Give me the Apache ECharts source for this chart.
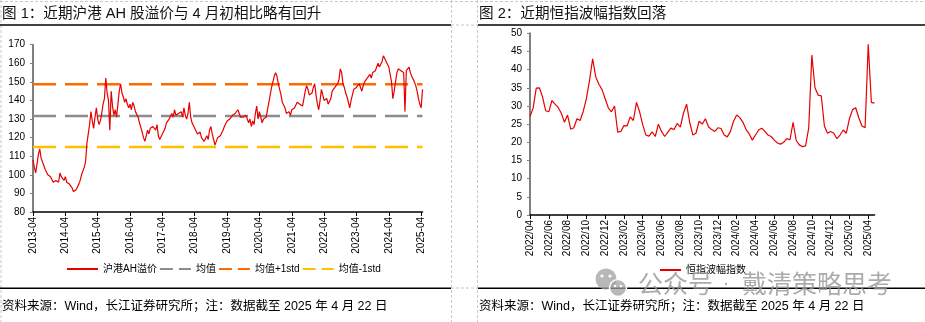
<!DOCTYPE html>
<html><head><meta charset="utf-8">
<script src="https://cdn.jsdelivr.net/npm/echarts@6/dist/echarts.min.js"></script>
<style>html,body{margin:0;padding:0;background:#fff;}#c{width:925px;height:322px;}</style>
</head><body><div id="c"></div>
<script>
// ---------- Figure 1: AH premium (semi-monthly samples starting 2013-04) ----------
const ahTickLabels = ['2013-04','2014-04','2015-04','2016-04','2017-04','2018-04','2019-04','2020-04','2021-04','2022-04','2023-04','2024-04','2025-04'];
const ahValues = [
  108,104,101,106,111,114,109,107,105,103,102,100,101,99,98,96,95,97,98,96,101,99,98,97,
  99,96,97,95,94,93,91,90,92,93,95,97,100,101,104,107,117,122,127,134,129,125,131,136,
  130,127,129,133,138,141,152,144,140,124,145,137,132,135,131,138,145,149,144,142,139,141,138,136,
  138,135,139,137,134,133,131,128,127,123,120,118,121,124,122,125,124,126,125,124,127,121,119,118,
  122,122,125,128,127,130,130,133,131,135,132,131,133,132,134,131,136,132,130,133,139,131,128,127,
  125,124,122,121,123,120,119,118,117,121,119,124,126,122,119,116,118,120,119,121,120,124,126,127,
  129,128,130,131,132,131,133,132,135,133,131,132,131,130,132,131,128,130,126,129,127,133,137,130,
  134,131,128,130,129,131,130,139,143,147,150,153,155,153,149,146,143,139,138,136,133,132,134,132,
  135,134,136,136,139,140,138,137,137,141,145,148,146,143,142,144,147,149,143,138,135,140,146,143,
  140,139,141,138,137,141,145,146,147,146,149,151,157,155,149,147,144,142,139,136,140,143,146,145,
  147,146,149,148,145,148,150,151,152,153,154,152,155,154,156,157,160,158,158,161,164,163,161,160,
  158,159,150,141,145,150,155,157,158,156,157,155,134,156,157,158,155,153,152,150,148,145,141,138,
  136,146
];
const ahMean = [131.6];
const ahUpper = [148.7];
const ahLower = [115.0];
const ahNames = ['沪港AH溢价','均值','均值+1std','均值-1std'];

// ---------- Figure 2: HSI volatility index (samples ~every 10 days from 2022-04) ----------
const vhsiTickLabels = ['2022/04','2022/06','2022/08','2022/10','2022/12','2023/02','2023/04','2023/06','2023/08','2023/10','2023/12','2024/02','2024/04','2024/06','2024/08','2024/10','2024/12','2025/02','2025/04'];
const vhsiValues = [
  27.1,29.4,34.9,35,32.5,28.7,28.4,31.5,30.5,29.6,28,25.5,27.5,23.6,24,26.5,26,28.5,
  32,37,43,38,36,34.5,32,29.5,28.4,30,22.8,23,24.6,24.5,27,26,31,28.4,
  24.8,22,21.7,22.9,21.6,25,23,21.6,22.8,23.9,23.5,25.2,24.2,28,30.5,25.5,22,22.5,
  25.8,25,26.5,24.3,23.5,23,24,23.8,22,21.5,23,25.8,27.5,26.8,25.5,23.5,22.3,20.6,
  22,23.4,23.9,23,22,21.6,20.6,19.8,19.5,20,21,20.7,25.5,20.5,19.3,18.8,19,24,
  44,35,33,32.8,24.5,22.5,23,22.5,21,22,23.4,22.5,26.5,29,29.5,26.7,24.5,24,
  47,31,30.8
];
const vhsiName = '恒指波幅指数';

// ---------- build data for the library ----------
const ahData = ahValues.map((v, i) => [i / 2, v]);           // x = months since 2013-04
const ahEnd = ahData[ahData.length - 1][0];
const vhsiData = vhsiValues.map((v, i) => [i / 3, v]);       // x = months since 2022-04
const vhsiEnd = vhsiData[vhsiData.length - 1][0];
const hline = (val) => [[0, val], [ahEnd, val]];

const NUM = '"Liberation Sans", Arial, "Noto Sans CJK SC", sans-serif';
const CJK = '"Liberation Sans", "Noto Sans CJK SC", sans-serif';
const lbl = { color: '#000', fontSize: 10, fontFamily: NUM };

const chart = echarts.init(document.getElementById('c'), null, { renderer: 'canvas' });

const dashGray = { stroke: '#c8c8c8', lineWidth: 1, lineDash: [3, 2] };
const black = { stroke: '#000', lineWidth: 1.4 };
const wmFill = 'rgba(150,150,150,0.8)';
const wmFont = '25px "Noto Sans CJK SC", sans-serif';
const graphics = [
  { type: 'line', shape: { x1: 0, y1: 1.5, x2: 925, y2: 1.5 }, style: dashGray, silent: true },
  { type: 'line', shape: { x1: 1, y1: 0, x2: 1, y2: 322 }, style: dashGray, silent: true },
  { type: 'line', shape: { x1: 451.5, y1: 0, x2: 451.5, y2: 322 }, style: dashGray, silent: true },
  { type: 'line', shape: { x1: 477.5, y1: 0, x2: 477.5, y2: 322 }, style: dashGray, silent: true },
  { type: 'line', shape: { x1: 451, y1: 25, x2: 478, y2: 25 }, style: dashGray, silent: true },
  { type: 'line', shape: { x1: 451, y1: 288, x2: 478, y2: 288 }, style: dashGray, silent: true },
  { type: 'line', shape: { x1: 0, y1: 25, x2: 451, y2: 25 }, style: black, silent: true },
  { type: 'line', shape: { x1: 478, y1: 25, x2: 925, y2: 25 }, style: black, silent: true },
  { type: 'line', shape: { x1: 0, y1: 288.3, x2: 451, y2: 288.3 }, style: black, silent: true },
  { type: 'line', shape: { x1: 478, y1: 288.3, x2: 925, y2: 288.3 }, style: black, silent: true },
  { type: 'text', x: 2, y: 14, style: { text: '图 1：近期沪港 AH 股溢价与 4 月初相比略有回升', fill: '#111', font: '14.6px ' + CJK, textVerticalAlign: 'middle' } },
  { type: 'text', x: 479, y: 14, style: { text: '图 2：近期恒指波幅指数回落', fill: '#111', font: '14.6px ' + CJK, textVerticalAlign: 'middle' } },
  { type: 'text', x: 2, y: 306.5, style: { text: '资料来源：Wind，长江证券研究所；注：数据截至 2025 年 4 月 22 日', fill: '#000', font: '12.5px ' + CJK, textVerticalAlign: 'middle' } },
  { type: 'text', x: 479, y: 306.5, style: { text: '资料来源：Wind，长江证券研究所；注：数据截至 2025 年 4 月 22 日', fill: '#000', font: '12.5px ' + CJK, textVerticalAlign: 'middle' } },
  // watermark
  { type: 'circle', shape: { cx: 606, cy: 279, r: 10.5 }, style: { fill: 'rgba(160,160,160,0.75)' }, z: 100 },
  { type: 'circle', shape: { cx: 618, cy: 288, r: 8.5 }, style: { fill: 'rgba(160,160,160,0.75)', stroke: '#fff', lineWidth: 1.5 }, z: 101 },
  { type: 'circle', shape: { cx: 602, cy: 276, r: 1.6 }, style: { fill: '#fff' }, z: 102 },
  { type: 'circle', shape: { cx: 610, cy: 276, r: 1.6 }, style: { fill: '#fff' }, z: 102 },
  { type: 'circle', shape: { cx: 615, cy: 286, r: 1.3 }, style: { fill: '#fff' }, z: 102 },
  { type: 'circle', shape: { cx: 621, cy: 286, r: 1.3 }, style: { fill: '#fff' }, z: 102 },
  { type: 'text', x: 638, y: 283, z: 100, style: { text: '公众号', fill: wmFill, font: wmFont, textVerticalAlign: 'middle' } },
  { type: 'text', x: 726, y: 283, z: 100, style: { text: '·', fill: wmFill, font: '20px "Liberation Sans", sans-serif', textAlign: 'center', textVerticalAlign: 'middle' } },
  { type: 'text', x: 742, y: 283, z: 100, style: { text: '戴清策略思考', fill: wmFill, font: wmFont, textVerticalAlign: 'middle' } }
];

const noSym = { opacity: 0 };

chart.setOption({
  animation: false,
  backgroundColor: '#fff',
  textStyle: { fontFamily: CJK },
  grid: [
    { left: 33, top: 44.7, width: 389.5, height: 167.3 },
    { left: 530, top: 33.3, width: 344.5, height: 181.7 }
  ],
  xAxis: [
    {
      gridIndex: 0, type: 'value', min: 0, max: ahEnd, interval: 12,
      splitLine: { show: false },
      axisLine: { lineStyle: { color: '#000', width: 1.5 } },
      axisTick: { length: 4, lineStyle: { color: '#000' } },
      axisLabel: Object.assign({}, lbl, { rotate: 90, margin: 5, showMaxLabel: false,
        formatter: (v) => (Math.abs(v % 12) < 1e-6 ? (ahTickLabels[Math.round(v / 12)] || '') : '') })
    },
    {
      gridIndex: 1, type: 'value', min: 0, max: vhsiEnd, interval: 2,
      splitLine: { show: false },
      axisLine: { lineStyle: { color: '#000', width: 1.5 } },
      axisTick: { length: 4, lineStyle: { color: '#000' } },
      axisLabel: Object.assign({}, lbl, { rotate: 90, margin: 5, showMaxLabel: false,
        formatter: (v) => (Math.abs(v % 2) < 1e-6 ? (vhsiTickLabels[Math.round(v / 2)] || '') : '') })
    }
  ],
  yAxis: [
    {
      gridIndex: 0, type: 'value', min: 80, max: 170, interval: 10,
      splitLine: { show: false },
      axisLine: { show: true, lineStyle: { color: '#7f7f7f', width: 2 } },
      axisTick: { show: true, length: 3, lineStyle: { color: '#7f7f7f' } },
      axisLabel: Object.assign({}, lbl, { margin: 8 })
    },
    {
      gridIndex: 1, type: 'value', min: 0, max: 50, interval: 5,
      splitLine: { show: false },
      axisLine: { show: true, lineStyle: { color: '#7f7f7f', width: 2 } },
      axisTick: { show: true, length: 3, lineStyle: { color: '#7f7f7f' } },
      axisLabel: Object.assign({}, lbl, { margin: 8 })
    }
  ],
  legend: [
    {
      left: 66, top: 264, itemWidth: 31, itemHeight: 10, itemGap: 2, padding: 0,
      itemStyle: noSym,
      textStyle: { color: '#000', fontSize: 10, fontFamily: CJK },
      data: [
        { name: ahNames[0] },
        { name: ahNames[1], lineStyle: { type: [13, 6] } },
        { name: ahNames[2], lineStyle: { type: [13, 6] } },
        { name: ahNames[3], lineStyle: { type: [13, 6] } }
      ]
    },
    {
      left: 659, top: 265, itemWidth: 21, itemHeight: 10, padding: 0,
      itemStyle: noSym,
      textStyle: { color: '#000', fontSize: 10, fontFamily: CJK },
      data: [vhsiName]
    }
  ],
  series: [
    { name: ahNames[0], type: 'line', xAxisIndex: 0, yAxisIndex: 0, data: ahData, symbol: 'none',
      lineStyle: { color: '#e60000', width: 1.2 }, itemStyle: { color: '#e60000' }, z: 5 },
    { name: ahNames[1], type: 'line', xAxisIndex: 0, yAxisIndex: 0, data: hline(ahMean[0]), symbol: 'none',
      lineStyle: { color: '#8c8c8c', width: 2.5, type: [23, 9] }, itemStyle: { color: '#8c8c8c' }, z: 3 },
    { name: ahNames[2], type: 'line', xAxisIndex: 0, yAxisIndex: 0, data: hline(ahUpper[0]), symbol: 'none',
      lineStyle: { color: '#ff6a00', width: 2.5, type: [23, 9] }, itemStyle: { color: '#ff6a00' }, z: 3 },
    { name: ahNames[3], type: 'line', xAxisIndex: 0, yAxisIndex: 0, data: hline(ahLower[0]), symbol: 'none',
      lineStyle: { color: '#ffc000', width: 2.5, type: [23, 9] }, itemStyle: { color: '#ffc000' }, z: 3 },
    { name: vhsiName, type: 'line', xAxisIndex: 1, yAxisIndex: 1, data: vhsiData, symbol: 'none',
      lineStyle: { color: '#e60000', width: 1.2 }, itemStyle: { color: '#e60000' }, z: 5 }
  ],
  graphic: graphics
});
</script>
</body></html>
